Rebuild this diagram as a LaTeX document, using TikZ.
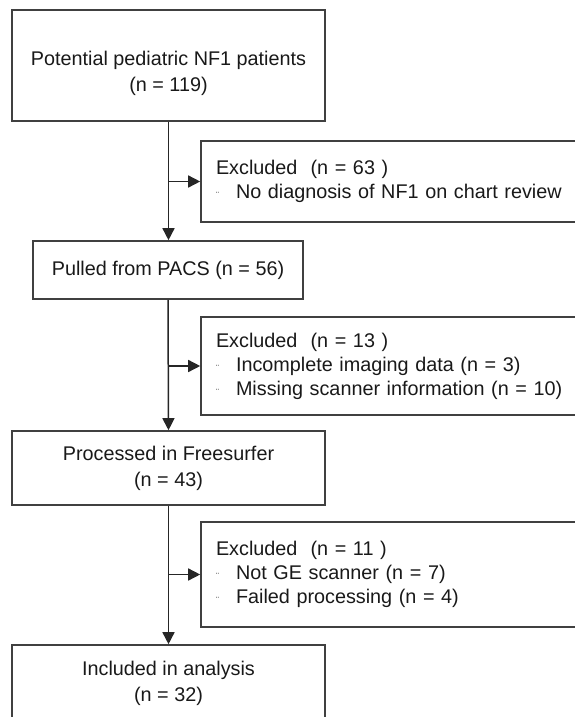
\documentclass[tikz,border=0pt]{standalone}
\usepackage{fontspec}
\setmainfont{Liberation Sans}
\usetikzlibrary{positioning, arrows.meta, calc}

\newcommand{\bulmark}{\makebox[20pt][l]{\fontsize{9}{9}\selectfont ¨}}

\begin{document}
\begin{tikzpicture}[x=1pt, y=-1pt, >={Triangle[length=12pt, width=12pt]},
    every node/.style={font=\fontsize{19.8}{26}\selectfont, text=black!90},
    flowbox/.style={draw=black!75, line width=1.6pt, inner sep=0pt, align=center},
    exclbox/.style={draw=black!75, line width=1.6pt, inner ysep=0pt, inner xsep=15pt,
        text width=359pt, align=left, font=\fontsize{19.8}{24}\selectfont},
    flowline/.style={draw=black!85, line width=1.5pt}]
        \clip (0,0) rectangle (575,717);

        % Main column
        \node (Potential) [flowbox, minimum width=313pt, minimum height=111pt] at (168.5,65.5)
            {\rule{0pt}{31pt}Potential pediatric NF1 patients\\(n = 119)};
        \node (Pacs) [flowbox, minimum width=270pt, minimum height=58pt] at (168,270)
            {Pulled from PACS (n = 56)};
        \node (Freesurfer) [flowbox, minimum width=313pt, minimum height=74pt] at (168.5,468)
            {Processed in Freesurfer\\(n = 43)};
        \node (Included) [flowbox, minimum width=313pt, minimum height=76pt] at (168.5,683)
            {Included in analysis\\(n = 32)};

        % Exclusions
        \node (ExclChart) [exclbox, minimum height=81pt] at (395.5,181.5)
            {Excluded~~(n = 63 )\\\bulmark No diagnosis of NF1 on chart review};
        \node (ExclImaging) [exclbox, minimum height=98pt] at (395.5,366)
            {Excluded~~(n = 13 )\\\bulmark Incomplete imaging data (n = 3)\\\bulmark Missing scanner information (n = 10)};
        \node (ExclScanner) [exclbox, minimum height=105pt] at (395.5,574.5)
            {Excluded~~(n = 11 )\\\bulmark Not GE scanner (n = 7)\\\bulmark Failed processing (n = 4)};

        % Arrows down
        \draw[flowline, ->] (Potential.south) -- (Potential.south |- Pacs.north);
        \draw[flowline, ->] (Pacs.south) -- (Freesurfer.north);
        \draw[flowline, ->] (Freesurfer.south) -- (Included.north);

        % Arrows to exclusions
        \draw[flowline, ->] (Potential.south |- ExclChart.west) -- (ExclChart.west);
        \draw[flowline, ->] (Pacs.south |- ExclImaging.west) -- (ExclImaging.west);
        \draw[flowline, ->] (Freesurfer.south |- ExclScanner.west) -- (ExclScanner.west);
    \end{tikzpicture}
\end{document}
